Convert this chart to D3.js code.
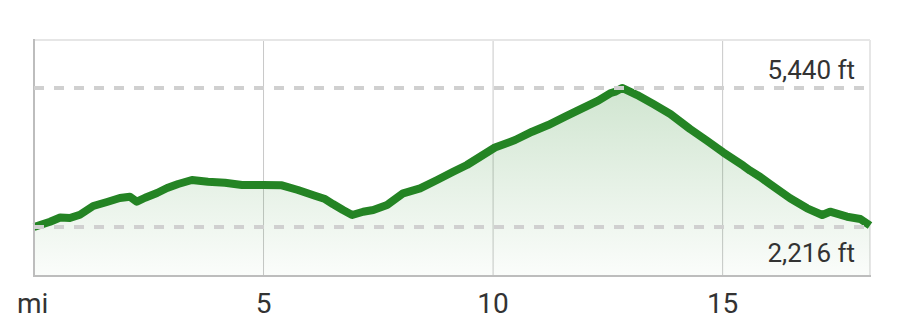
<!DOCTYPE html>
<html>
<head>
<meta charset="utf-8">
<script src="https://cdn.jsdelivr.net/npm/d3@7"></script>
<style>
  body { margin: 0; background: #fff; }
  svg { display: block; font-family: Roboto, "Noto Sans", sans-serif; }
</style>
</head>
<body>
<svg id="chart" width="901" height="326"></svg>
<script>
// distance along the trail, in miles
var miles = [0, 0.35, 0.57, 0.78, 1.0, 1.29, 1.59, 1.87, 2.09, 2.24, 2.42, 2.68, 2.9, 3.14, 3.44,
  3.79, 4.16, 4.53, 4.99, 5.4, 5.75, 6.12, 6.34, 6.51, 6.73, 6.93, 7.17, 7.39, 7.69, 8.04,
  8.41, 8.78, 9.13, 9.43, 10.04, 10.48, 10.85, 11.2, 11.57, 11.94, 12.29, 12.55, 12.66, 12.81,
  13.14, 13.49, 13.86, 14.29, 14.66, 15.01, 15.45, 15.6, 15.82, 16.03, 16.47, 16.84, 17.17,
  17.34, 17.71, 18.0, 18.21];
// elevation in feet
var elevation = [2216, 2339, 2436, 2425, 2501, 2703, 2796, 2888, 2919, 2803, 2895, 3004, 3120, 3213, 3306,
  3266, 3243, 3190, 3190, 3183, 3074, 2942, 2865, 2749, 2610, 2494, 2571, 2610, 2726, 2998,
  3113, 3306, 3498, 3654, 4060, 4234, 4426, 4581, 4774, 4969, 5145, 5317, 5354, 5440,
  5277, 5068, 4836, 4489, 4217, 3948, 3638, 3522, 3376, 3213, 2882, 2650, 2494,
  2571, 2455, 2402, 2250];
var xTicks = [5, 10, 15];
var refLines = [5440, 2216];
var refLabels = ["5,440 ft", "2,216 ft"];
var unitLabel = "mi";

var svg = d3.select("#chart");
var plotLeft = 34, plotRight = 870, plotTop = 40, plotBottom = 276;

var x = d3.scaleLinear().domain([0, 18.21]).range([plotLeft, plotRight]);
var y = d3.scaleLinear().domain([1080, 6553]).range([plotBottom, plotTop]);

var points = miles.map(function(m, i) { return [m, elevation[i]]; });

// gradient under the profile
var grad = svg.append("defs").append("linearGradient")
  .attr("id", "fillGrad")
  .attr("gradientUnits", "userSpaceOnUse")
  .attr("x1", 0).attr("x2", 0)
  .attr("y1", y(5440)).attr("y2", plotBottom);
grad.append("stop").attr("offset", "0%").attr("stop-color", "#2a8a2a").attr("stop-opacity", 0.22);
grad.append("stop").attr("offset", "100%").attr("stop-color", "#2a8a2a").attr("stop-opacity", 0.02);

// vertical grid lines
svg.selectAll(".grid").data(xTicks).enter().append("line")
  .attr("x1", function(d) { return x(d); })
  .attr("x2", function(d) { return x(d); })
  .attr("y1", plotTop).attr("y2", plotBottom)
  .attr("stroke", "#c8c8c8").attr("stroke-width", 1);

// frame
svg.append("line").attr("x1", plotLeft).attr("x2", plotRight).attr("y1", plotTop).attr("y2", plotTop)
  .attr("stroke", "#e6e6e6").attr("stroke-width", 2);
svg.append("line").attr("x1", plotRight).attr("x2", plotRight).attr("y1", plotTop).attr("y2", plotBottom)
  .attr("stroke", "#e6e6e6").attr("stroke-width", 2);

var area = d3.area()
  .x(function(d) { return x(d[0]); })
  .y0(plotBottom)
  .y1(function(d) { return y(d[1]); });
var line = d3.line()
  .x(function(d) { return x(d[0]); })
  .y(function(d) { return y(d[1]); });

svg.append("path").datum(points)
  .attr("d", area)
  .attr("fill", "url(#fillGrad)");

svg.append("path").datum(points)
  .attr("d", line)
  .attr("fill", "none")
  .attr("stroke", "#248424")
  .attr("stroke-width", 8)
  .attr("stroke-linejoin", "round")
  .attr("stroke-linecap", "butt");

svg.append("line").attr("x1", plotLeft).attr("x2", plotLeft).attr("y1", plotTop - 1).attr("y2", plotBottom)
  .attr("stroke", "#bdbdbd").attr("stroke-width", 2);
svg.append("line").attr("x1", plotLeft - 1).attr("x2", plotRight + 1).attr("y1", plotBottom).attr("y2", plotBottom)
  .attr("stroke", "#bdbdbd").attr("stroke-width", 2);

// dashed max / min lines, drawn over the profile
svg.selectAll(".ref").data(refLines).enter().append("line")
  .attr("x1", plotLeft).attr("x2", plotRight - 6)
  .attr("y1", function(d) { return y(d); })
  .attr("y2", function(d) { return y(d); })
  .attr("stroke", "#d0d0d0")
  .attr("stroke-width", 4)
  .attr("stroke-dasharray", "10,10");

svg.append("text")
  .attr("x", 855).attr("y", y(refLines[0]) - 9)
  .attr("text-anchor", "end")
  .attr("font-size", 26).attr("fill", "#333")
  .text(refLabels[0]);
svg.append("text")
  .attr("x", 855).attr("y", y(refLines[1]) + 35)
  .attr("text-anchor", "end")
  .attr("font-size", 26).attr("fill", "#333")
  .text(refLabels[1]);

// x axis labels
svg.selectAll(".tick").data(xTicks).enter().append("text")
  .attr("x", function(d) { return x(d); })
  .attr("y", 313)
  .attr("text-anchor", "middle")
  .attr("font-size", 28).attr("fill", "#333")
  .text(function(d) { return d; });
svg.append("text")
  .attr("x", 17).attr("y", 313)
  .attr("font-size", 28).attr("fill", "#333")
  .text(unitLabel);
</script>
</body>
</html>
